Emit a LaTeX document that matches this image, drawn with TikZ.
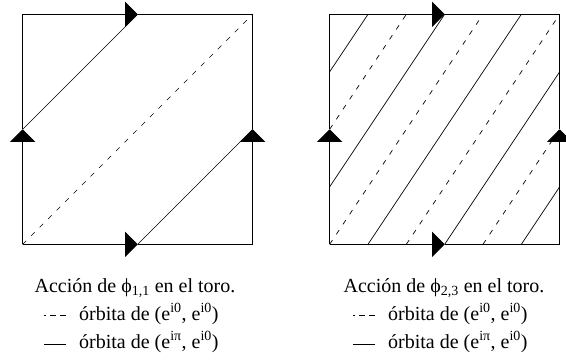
\documentclass[tikz,border=0pt]{standalone}
\usepackage{fontspec}
\setmainfont{Liberation Serif}
\usetikzlibrary{arrows.meta}

\begin{document}
\begin{tikzpicture}[
  x=1pt, y=1pt,
  borde/.style={line width=0.8pt},
  flecha/.style={borde, -{Triangle[length=12.5pt, width=25pt]}},
  orbcero/.style={line width=0.7pt, dash pattern=on 5pt off 7pt},
  orbpi/.style={line width=0.7pt},
  titulo/.style={anchor=base, inner sep=0pt, font=\fontsize{20}{24}\selectfont},
  ley/.style={anchor=base west, inner sep=0pt, font=\fontsize{20}{24}\selectfont},
  marca/.style={line width=0.8pt},
  marcacero/.style={marca, dash pattern=on 6pt off 4pt, dash phase=4pt}
]
\useasboundingbox (0,0) rectangle (566,360);
% toro de phi_{1,1}
\begin{scope}[shift={(22.7,115.7)}, x=230pt, y=230pt]
  \draw[orbcero] (0,0) -- (1,1);
  \draw[orbpi] (0.5,0) -- (1,0.5);
  \draw[orbpi] (0,0.5) -- (0.5,1);
  \draw[flecha] (0,0) -- (0.5,0);
  \draw[borde] (0.5,0) -- (1,0);
  \draw[flecha] (0,1) -- (0.5,1);
  \draw[borde] (0.5,1) -- (1,1);
  \draw[flecha] (0,0) -- (0,0.5);
  \draw[borde] (0,0.5) -- (0,1);
  \draw[flecha] (1,0) -- (1,0.5);
  \draw[borde] (1,0.5) -- (1,1);
\end{scope}
% toro de phi_{2,3}
\begin{scope}[shift={(329.7,115.7)}, x=230pt, y=230pt]
  \draw[orbcero] (0,0) -- (2/3,1);
  \draw[orbcero] (2/3,0) -- (1,1/2);
  \draw[orbcero] (0,1/2) -- (1/3,1);
  \draw[orbcero] (1/3,0) -- (1,1);
  \draw[orbpi] (1/2,0) -- (1,3/4);
  \draw[orbpi] (0,3/4) -- (1/6,1);
  \draw[orbpi] (1/6,0) -- (5/6,1);
  \draw[orbpi] (5/6,0) -- (1,1/4);
  \draw[orbpi] (0,1/4) -- (1/2,1);
  \draw[flecha] (0,0) -- (0.5,0);
  \draw[borde] (0.5,0) -- (1,0);
  \draw[flecha] (0,1) -- (0.5,1);
  \draw[borde] (0.5,1) -- (1,1);
  \draw[flecha] (0,0) -- (0,0.5);
  \draw[borde] (0,0.5) -- (0,1);
  \draw[flecha] (1,0) -- (1,0.5);
  \draw[borde] (1,0.5) -- (1,1);
\end{scope}
% textos
\node[titulo] (tit1) at (135,68) {Acción de ϕ\textsubscript{1,1} en el toro.};
\node[ley] (cero1) at (79,40) {órbita de (e\textsuperscript{i0}, e\textsuperscript{i0})};
\node[ley] (pi1) at (79,12) {órbita de (e\textsuperscript{iπ}, e\textsuperscript{i0})};
\draw[marcacero] ([xshift=-35pt, yshift=5pt]cero1.base west) -- ++(22,0);
\draw[marca] ([xshift=-35pt, yshift=4pt]pi1.base west) -- ++(22,0);
\node[titulo] (tit2) at (444,68) {Acción de ϕ\textsubscript{2,3} en el toro.};
\node[ley] (cero2) at (388,40) {órbita de (e\textsuperscript{i0}, e\textsuperscript{i0})};
\node[ley] (pi2) at (388,12) {órbita de (e\textsuperscript{iπ}, e\textsuperscript{i0})};
\draw[marcacero] ([xshift=-35pt, yshift=5pt]cero2.base west) -- ++(22,0);
\draw[marca] ([xshift=-35pt, yshift=4pt]pi2.base west) -- ++(22,0);
\end{tikzpicture}
\end{document}
